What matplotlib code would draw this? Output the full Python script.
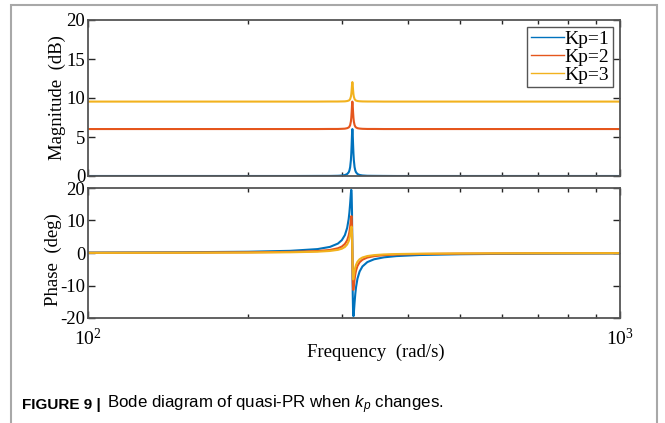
import matplotlib
matplotlib.use("Agg")
import matplotlib.pyplot as plt
from matplotlib.patches import Rectangle
from matplotlib.ticker import FixedLocator, NullFormatter

plt.rcParams['font.family'] = ['Liberation Serif', 'DejaVu Serif']
plt.rcParams['axes.unicode_minus'] = False
plt.rcParams['mathtext.fontset'] = 'custom'
plt.rcParams['mathtext.it'] = 'Liberation Sans:italic'
plt.rcParams['mathtext.rm'] = 'Liberation Sans'

# ---- data ----
freq = [100, 150, 200, 240, 270, 285, 295, 300, 304, 307,
        309, 310, 311, 312, 312.5, 313, 313.5, 314, 314.5, 315,
        315.5, 316, 317, 318, 319, 321, 324, 328, 335, 345,
        360, 380, 420, 500, 600, 750, 1000]

labels = ['Kp=1', 'Kp=2', 'Kp=3']

mag_kp1 = [0, 0, 0, 0.0, 0.01, 0.01, 0.03, 0.06, 0.12, 0.25,
           0.47, 0.70, 1.13, 2.03, 2.83, 3.98, 5.31, 6.02, 5.32, 3.98,
           2.85, 2.05, 1.15, 0.71, 0.48, 0.26, 0.13, 0.07, 0.03, 0.02,
           0.01, 0.0, 0.0, 0, 0, 0, 0]
mag_kp2 = [6.02, 6.02, 6.02, 6.02, 6.02, 6.03, 6.03, 6.05, 6.07, 6.13,
           6.22, 6.33, 6.53, 6.99, 7.43, 8.13, 9.03, 9.54, 9.03, 8.13,
           7.44, 6.99, 6.54, 6.33, 6.23, 6.13, 6.08, 6.05, 6.03, 6.03,
           6.02, 6.02, 6.02, 6.02, 6.02, 6.02, 6.02]
mag_kp3 = [9.54, 9.54, 9.54, 9.54, 9.54, 9.55, 9.55, 9.56, 9.57, 9.61,
           9.67, 9.73, 9.87, 10.17, 10.47, 10.97, 11.64, 12.04, 11.65, 10.97,
           10.48, 10.17, 9.87, 9.74, 9.67, 9.61, 9.58, 9.56, 9.55, 9.55,
           9.54, 9.54, 9.54, 9.54, 9.54, 9.54, 9.54]

ph_kp1 = [0.13, 0.23, 0.39, 0.67, 1.2, 1.88, 2.9, 3.95, 5.51, 7.73,
          10.42, 12.47, 15.21, 18.42, 19.44, 18.44, 12.54, 0, -12.53, -18.42,
          -19.44, -18.45, -15.3, -12.59, -10.56, -7.89, -5.69, -4.13, -2.8, -1.93,
          -1.33, -0.95, -0.62, -0.38, -0.26, -0.19, -0.13]
ph_kp2 = [0.07, 0.11, 0.2, 0.34, 0.6, 0.94, 1.46, 1.98, 2.78, 3.92,
          5.35, 6.49, 8.1, 10.29, 11.31, 11.31, 8.14, 0, -8.13, -11.31,
          -11.32, -10.32, -8.16, -6.55, -5.43, -4.0, -2.86, -2.07, -1.4, -0.97,
          -0.67, -0.48, -0.31, -0.19, -0.13, -0.09, -0.06]
ph_kp3 = [0.04, 0.08, 0.13, 0.22, 0.4, 0.63, 0.97, 1.32, 1.85, 2.63,
          3.6, 4.38, 5.51, 7.11, 7.94, 8.13, 6.01, 0, -6.01, -8.13,
          -7.95, -7.14, -5.55, -4.42, -3.65, -2.68, -1.91, -1.38, -0.94, -0.65,
          -0.44, -0.32, -0.21, -0.13, -0.09, -0.06, -0.04]

mag_ticks = [0, 5, 10, 15, 20]
ph_ticks = [-20, -10, 0, 10, 20]
x_major = [100, 1000]
x_major_labels = [r'$\mathregular{10^2}$', r'$\mathregular{10^3}$']
x_minor = [200, 300, 400, 500, 600, 700, 800, 900]

colors = ['#0072BD', '#E5561C', '#F2B21E']

W, H = 665, 423
fig = plt.figure(figsize=(W / 100, H / 100), dpi=100)

# outer frame
fig.patches.append(Rectangle((11 / W, -0.1), (657 - 11) / W, 1.1 - 5 / H,
                             transform=fig.transFigure, fill=False,
                             ec='#a8a8a8', lw=1.5))

ax1 = fig.add_axes([88 / W, 1 - 176 / H, 532 / W, 156 / H])
ax2 = fig.add_axes([88 / W, 1 - 318 / H, 532 / W, 130 / H])

for m, lab, c in zip([mag_kp1, mag_kp2, mag_kp3], labels, colors):
    ax1.plot(freq, m, color=c, lw=1.5, label=lab)
for p, c in zip([ph_kp1, ph_kp2, ph_kp3], colors):
    ax2.plot(freq, p, color=c, lw=1.5)

for ax in (ax1, ax2):
    ax.set_xscale('log')
    ax.set_xlim(100, 1000)
    ax.xaxis.set_major_locator(FixedLocator(x_major))
    ax.xaxis.set_minor_locator(FixedLocator(x_minor))
    ax.xaxis.set_minor_formatter(NullFormatter())
    ax.tick_params(which='both', direction='in', top=True, right=True,
                   colors='#262626', labelcolor='black', labelsize=13.5, pad=2)
    ax.tick_params(which='major', length=5, width=1)
    ax.tick_params(which='minor', length=3, width=1)
    for s in ax.spines.values():
        s.set_color('#555555')
        s.set_linewidth(1.3)

ax1.set_ylim(0, 20)
ax1.set_yticks(mag_ticks)
ax1.set_xticklabels([])
ax2.set_ylim(-20, 20)
ax2.set_yticks(ph_ticks)
ax2.set_xticklabels(x_major_labels)
ax2.tick_params(axis='x', pad=7, labelsize=14)

ax1.set_ylabel('Magnitude  (dB)', fontsize=13.5)
ax1.yaxis.set_label_coords((66 - 88) / 532, 0.5)
ax2.set_ylabel('Phase  (deg)', fontsize=13.5)
ax2.yaxis.set_label_coords((62 - 88) / 532, 0.45)

fig.text(376 / W, 1 - 352 / H, 'Frequency  (rad/s)', fontsize=13.5,
         ha='center', va='center')

leg = ax1.legend(loc='upper right', fontsize=14, frameon=True, fancybox=False,
                 framealpha=1, edgecolor='#555555', handlelength=1.7,
                 handletextpad=0.05, labelspacing=0.0, borderpad=0.2,
                 borderaxespad=0.35)
leg.get_frame().set_linewidth(1.0)
for line in leg.get_lines():
    line.set_linewidth(1.0)

fig.text(22 / W, 1 - 405 / H, 'FIGURE 9 |', fontsize=11, fontweight='bold',
         family='Liberation Sans', ha='left', va='center')
fig.text(107 / W, 1 - 405 / H, r'Bode diagram of quasi-PR when $k_p$ changes.',
         fontsize=12.2, family='Liberation Sans', ha='left', va='center')

fig.savefig('out.png', dpi=100)
